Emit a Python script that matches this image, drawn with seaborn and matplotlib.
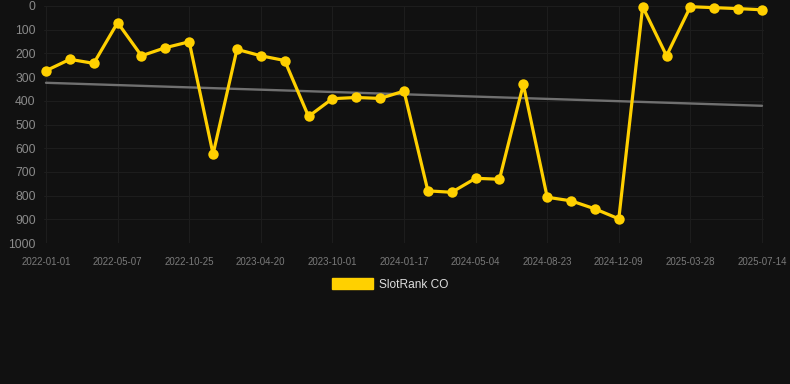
import pandas as pd
import numpy as np
import matplotlib
matplotlib.use("Agg")
import matplotlib.pyplot as plt
import seaborn as sns
from matplotlib.patches import Patch

# dados (rank, 0 = topo)
rank = [273, 225, 242, 70, 210, 176, 151, 625, 183, 210, 230, 466, 391, 386, 390,
        359, 780, 786, 727, 731, 331, 807, 822, 856, 898, 3, 210, 3, 7, 11, 16]
tick_labels = ['2022-01-01', '2022-05-07', '2022-10-25', '2023-04-20', '2023-10-01',
               '2024-01-17', '2024-05-04', '2024-08-23', '2024-12-09', '2025-03-28',
               '2025-07-14']
trend_start = 324
trend_end = 421
serie = 'SlotRank CO'

df = pd.DataFrame({'idx': range(len(rank)), 'rank': rank})

bg = '#111111'
amarelo = '#FFD000'

sns.set_style('dark')
plt.rcParams['font.family'] = ['Liberation Sans', 'DejaVu Sans']

fig = plt.figure(figsize=(7.9, 3.84), dpi=100, facecolor=bg)
ax = fig.add_axes([44 / 790, (384 - 243) / 384, 720 / 790, 237 / 384])
ax.set_facecolor(bg)

# linha de tendência
ax.plot([0, len(rank) - 1], [trend_start, trend_end], color='#707070', lw=1.7, zorder=2)

sns.lineplot(data=df, x='idx', y='rank', ax=ax, color=amarelo, lw=2.3,
             marker='o', markersize=7.5, markeredgewidth=0, zorder=3)
for ln in ax.lines:
    ln.set_clip_on(False)

ax.set_xlim(-0.084, len(rank) - 1 + 0.084)
ax.set_ylim(1000, 0)
ax.set_yticks(range(0, 1001, 100))
ax.set_xticks(range(0, len(rank), 3))
ax.set_xticklabels(tick_labels)
ax.set_xlabel('')
ax.set_ylabel('')

ax.grid(True, color='#1d1d1d', lw=0.8)
for s in ax.spines.values():
    s.set_visible(False)
ax.tick_params(axis='y', colors='#8a8a8a', labelsize=8.7, length=0, pad=6)
ax.tick_params(axis='x', colors='#7a7a7a', labelsize=7.0, length=0, pad=10)

fig.legend(handles=[Patch(color=amarelo)], labels=[serie], loc='center',
           bbox_to_anchor=(390 / 790, 1 - 284.5 / 384), frameon=False,
           handlelength=3.4, handleheight=1.0, fontsize=8.6,
           labelcolor='#dddddd', handletextpad=0.5)

fig.savefig('out.png', dpi=100, facecolor=bg)
